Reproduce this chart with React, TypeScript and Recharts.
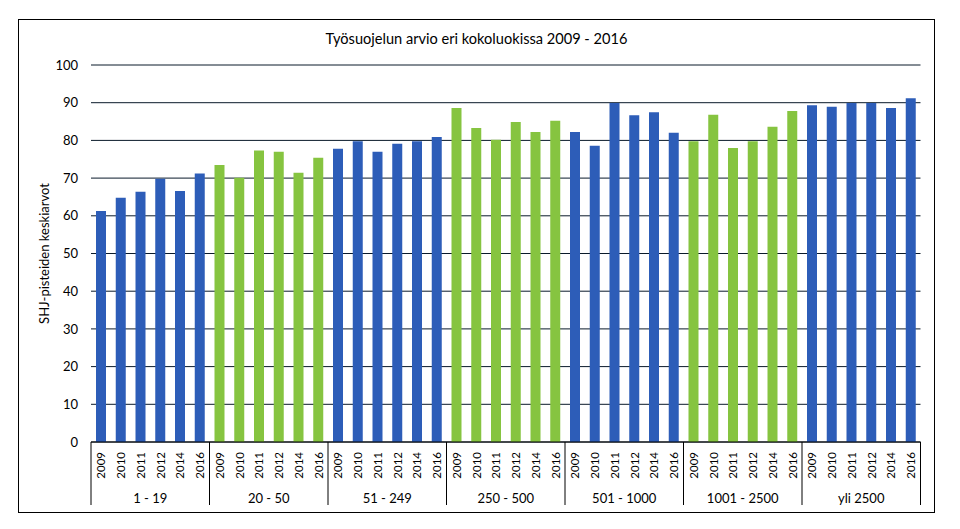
import React from 'react';
import { BarChart, Bar, XAxis, YAxis, CartesianGrid, Cell } from 'recharts';

const groups = ['1 - 19', '20 - 50', '51 - 249', '250 - 500', '501 - 1000', '1001 - 2500', 'yli 2500'];
const years = ['2009', '2010', '2011', '2012', '2014', '2016'];

const values_1_19 = [61.3, 64.8, 66.4, 69.8, 66.6, 71.2];
const values_20_50 = [73.5, 70.1, 77.3, 77.0, 71.4, 75.4];
const values_51_249 = [77.8, 79.8, 77.0, 79.1, 79.8, 80.9];
const values_250_500 = [88.6, 83.3, 80.2, 84.9, 82.2, 85.2];
const values_501_1000 = [82.2, 78.6, 89.9, 86.7, 87.5, 82.0];
const values_1001_2500 = [79.8, 86.8, 78.0, 79.8, 83.6, 87.8];
const values_yli_2500 = [89.3, 88.9, 89.9, 89.9, 88.6, 91.2];

const yTicks = [0, 10, 20, 30, 40, 50, 60, 70, 80, 90, 100];

const seriesByGroup = [
  values_1_19,
  values_20_50,
  values_51_249,
  values_250_500,
  values_501_1000,
  values_1001_2500,
  values_yli_2500,
];

const data = groups.flatMap((g, gi) =>
  years.map((yr, yi) => ({
    key: `${g}|${yr}`,
    group: g,
    groupIndex: gi,
    year: yr,
    yearIndex: yi,
    value: seriesByGroup[gi][yi],
  }))
);

const BLUE = '#2D5DB8';
const GREEN = '#86C440';
const FONT = 'Lato, "Open Sans", sans-serif';

function CategoryTick(props: any) {
  const { x, y, payload, width } = props;
  const idx = payload.index ?? props.index;
  const row = data[idx];
  if (!row) return null;
  const band = payload.offset && payload.offset > 0 ? payload.offset * 2 : width / data.length;
  const sepLen = 63;
  return (
    <g>
      <text
        x={x}
        y={y + 10}
        transform={`rotate(-90, ${x}, ${y + 10})`}
        textAnchor="end"
        dominantBaseline="central"
        fontSize={11.5}
        fontFamily={FONT}
        fill="#000"
      >
        {row.year}
      </text>
      {row.yearIndex === 0 && row.groupIndex === 0 && (
        <line x1={x - band / 2} x2={x - band / 2} y1={y} y2={y + sepLen} stroke="#000" strokeWidth={1} />
      )}
      {row.yearIndex === years.length - 1 && (
        <line x1={x + band / 2} x2={x + band / 2} y1={y} y2={y + sepLen} stroke="#000" strokeWidth={1} />
      )}
      {row.yearIndex === 2 && (
        <text
          x={x + band / 2}
          y={y + 56}
          textAnchor="middle"
          dominantBaseline="central"
          fontSize={13}
          fontFamily={FONT}
          fill="#000"
        >
          {row.group}
        </text>
      )}
    </g>
  );
}

export default function App() {
  return (
    <div style={{ position: 'absolute', left: 0, top: 0, width: 960, height: 529, background: '#fff' }}>
      <div
        style={{
          position: 'absolute',
          left: 18,
          top: 19,
          width: 915,
          height: 492,
          border: '1px solid #000',
          pointerEvents: 'none',
        }}
      />
      <div
        style={{
          position: 'absolute',
          left: 18,
          top: 30,
          width: 917,
          textAlign: 'center',
          fontFamily: FONT,
          fontSize: 14.6,
          color: '#000',
          lineHeight: '18px',
        }}
      >
        Työsuojelun arvio eri kokoluokissa 2009 - 2016
      </div>
      <div style={{ position: 'absolute', left: 0, top: 0 }}>
        <BarChart
          width={960}
          height={529}
          data={data}
          margin={{ top: 65, right: 39.5, bottom: 17, left: 0 }}
          barSize={10}
        >
          <CartesianGrid horizontal vertical={false} stroke="#0a1a2a" strokeWidth={1} />
          <XAxis
            dataKey="key"
            interval={0}
            height={70}
            tickSize={0}
            tickMargin={0}
            tickLine={false}
            axisLine={{ stroke: '#000', strokeWidth: 1 }}
            tick={<CategoryTick />}
          />
          <YAxis
            width={91}
            domain={[0, 100]}
            ticks={yTicks}
            interval={0}
            tickLine={false}
            axisLine={false}
            tickSize={0}
            tickMargin={13}
            tick={{ fontSize: 13, fontFamily: FONT, fill: '#000' }}
            label={{
              value: 'SHJ-pisteiden keskiarvot',
              angle: -90,
              position: 'center',
              dx: -1,
              style: { fontSize: 13, fontFamily: FONT, fill: '#000', textAnchor: 'middle' },
            }}
          />
          <Bar dataKey="value" isAnimationActive={false}>
            {data.map((d) => (
              <Cell key={d.key} fill={d.groupIndex % 2 === 0 ? BLUE : GREEN} />
            ))}
          </Bar>
        </BarChart>
      </div>
    </div>
  );
}
